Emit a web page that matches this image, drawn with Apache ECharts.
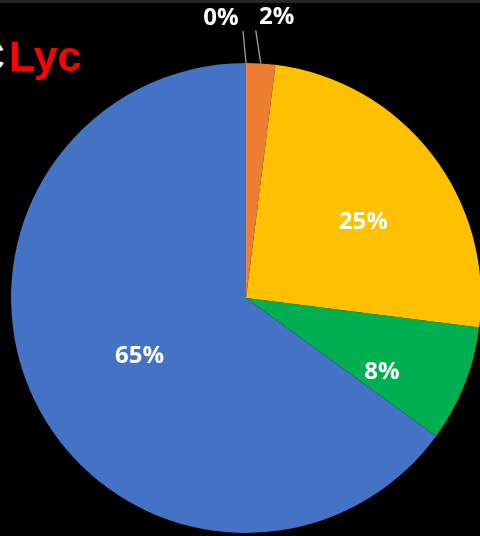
<!DOCTYPE html>
<html>
<head>
<meta charset="utf-8">
<style>
  html, body { margin: 0; padding: 0; background: #000; }
  #chart { width: 480px; height: 536px; }
</style>
<script src="https://cdn.jsdelivr.net/npm/echarts@6/dist/echarts.min.js"></script>
</head>
<body>
<div id="chart"></div>
<script>
// ---- data ----
var categories = ['A', 'B', 'C', 'D', 'E'];
var values = [0, 2, 25, 8, 65];
var colors = ['#A5A5A5', '#ED7D31', '#FFC000', '#00B050', '#4472C4'];

// ---- label styling (not data) ----
var insideOffsets = [null, null, [22, -2], [24, 30], [1, 3]];
var outsideLayout = {
  0: { lineEnd: [-3, -32], label: [-25, -45] },
  1: { lineEnd: [-5, -33], label: [16, -46] }
};

var chart = echarts.init(document.getElementById('chart'));

var seriesData = categories.map(function (name, i) {
  var item = { name: name, value: values[i], itemStyle: { color: colors[i] } };
  if (outsideLayout[i]) {
    item.label = { position: 'outside' };
    item.labelLine = { show: true, length: 30, length2: 0, lineStyle: { color: '#a0a0a0', width: 1.3 } };
  } else {
    item.label = { position: 'inside', offset: insideOffsets[i] };
    item.labelLine = { show: false };
  }
  return item;
});

chart.setOption({
  backgroundColor: '#000',
  animation: false,
  graphic: [
    { type: 'rect', shape: { x: 0, y: 0, width: 480, height: 3 }, style: { fill: '#262626' } },
    { type: 'text', style: { text: 'C', x: 5, y: 59, align: 'right', verticalAlign: 'middle', fill: '#fff', font: 'bold 43px "Liberation Sans"' } },
    { type: 'text', style: { text: 'Lyc', x: 9, y: 59, align: 'left', verticalAlign: 'middle', fill: '#ff0000', font: 'bold 43px "Liberation Sans"' } }
  ],
  series: [{
    type: 'pie',
    center: [246, 298],
    radius: 235,
    startAngle: 90,
    clockwise: true,
    avoidLabelOverlap: false,
    minShowLabelAngle: -1,
    label: {
      show: true,
      formatter: '{c}%',
      color: '#fff',
      fontFamily: 'Open Sans',
      fontWeight: 'bold',
      fontSize: 24
    },
    itemStyle: { borderWidth: 0 },
    labelLayout: function (p) {
      var o = outsideLayout[p.dataIndex];
      if (!o || !p.labelLinePoints) return {};
      var p0 = p.labelLinePoints[0];
      var e = [p0[0] + o.lineEnd[0], p0[1] + o.lineEnd[1]];
      return {
        x: p0[0] + o.label[0],
        y: p0[1] + o.label[1],
        align: 'center',
        verticalAlign: 'middle',
        labelLinePoints: [p0, e, e]
      };
    },
    data: seriesData
  }]
});
</script>
</body>
</html>
